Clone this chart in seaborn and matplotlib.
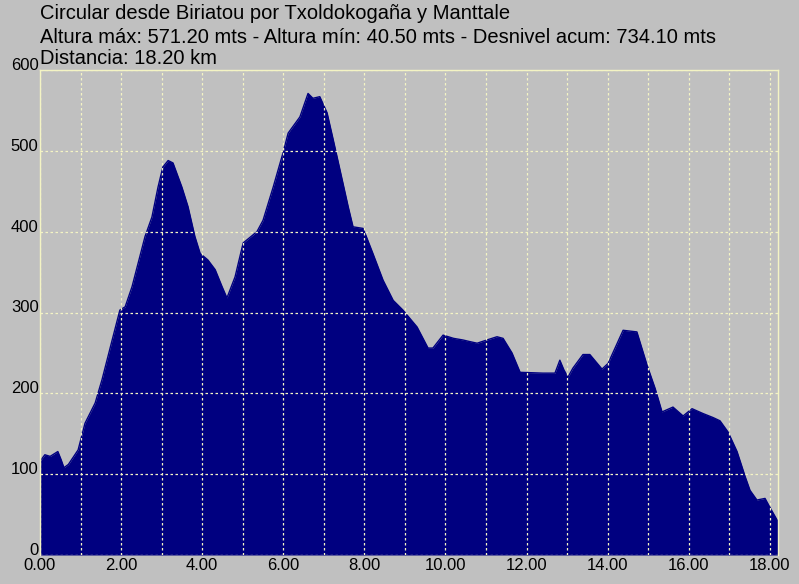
import matplotlib
matplotlib.use("Agg")
import matplotlib.pyplot as plt
import seaborn as sns
import pandas as pd

# Perfil: distancia (km) y altura (m)
dist_km = [0.00, 0.12, 0.25, 0.44, 0.52, 0.59, 0.70, 0.94, 1.11, 1.36, 1.53, 1.78,
           1.97, 2.10, 2.27, 2.42, 2.59, 2.76, 2.91, 3.03, 3.16, 3.28, 3.50, 3.65,
           3.82, 3.95, 4.14, 4.32, 4.49, 4.61, 4.81, 5.01, 5.35, 5.50, 5.75, 5.99,
           6.12, 6.41, 6.61, 6.73, 6.90, 7.08, 7.23, 7.40, 7.60, 7.72, 7.97, 8.21,
           8.46, 8.71, 8.95, 9.05, 9.30, 9.57, 9.69, 9.94, 10.20, 10.43, 10.60,
           10.78, 11.02, 11.27, 11.42, 11.64, 11.84, 12.40, 12.70, 12.82, 12.92,
           13.02, 13.14, 13.39, 13.56, 13.86, 14.01, 14.38, 14.72, 14.97, 15.17,
           15.34, 15.61, 15.86, 16.08, 16.35, 16.60, 16.77, 16.97, 17.19, 17.39,
           17.51, 17.68, 17.88, 18.00, 18.18, 18.20]
altura_m = [116, 124, 122, 128, 118, 108, 112, 130, 163, 188, 217, 266,
            303, 307, 332, 361, 394, 418, 455, 480, 488, 485, 455, 431,
            394, 373, 365, 353, 332, 318, 344, 386, 400, 414, 455, 497,
            522, 542, 571, 565, 567, 547, 514, 476, 431, 406, 404, 373,
            340, 315, 303, 297, 282, 256, 256, 272, 268, 266, 264,
            262, 266, 270, 268, 250, 226, 225, 225, 241, 229,
            220, 231, 248, 248, 230, 237, 278, 276, 235, 206,
            177, 183, 172, 181, 175, 170, 166, 152, 128, 97,
            80, 68, 70, 59, 43, 41]

x_ticks = [0, 2, 4, 6, 8, 10, 12, 14, 16, 18]
y_ticks = [0, 100, 200, 300, 400, 500, 600]
titulo = ["Circular desde Biriatou por Txoldokogaña y Manttale",
          "Altura máx: 571.20 mts - Altura mín: 40.50 mts - Desnivel acum: 734.10 mts",
          "Distancia: 18.20 km"]

sns.set_style("white")
plt.rcParams['font.family'] = ['Liberation Sans', 'DejaVu Sans']

gris = '#c0c0c0'
azul = '#000080'
amarillo = '#f4f4c4'

df = pd.DataFrame({'km': dist_km, 'm': altura_m})

fig = plt.figure(figsize=(7.99, 5.84), dpi=100, facecolor=gris)
ax = fig.add_axes([40 / 799, 1 - 555 / 584, 738 / 799, 485 / 584])
ax.set_facecolor(gris)

ax.fill_between(df['km'], df['m'], 0, color=azul, lw=0, zorder=1)
sns.lineplot(data=df, x='km', y='m', color=azul, lw=1, ax=ax, zorder=2)

ax.set_xlim(0, 18.2)
ax.set_ylim(0, 600)
ax.set_xticks(range(0, 19))
ax.set_xticklabels([f"{v:.2f}" if v in x_ticks else "" for v in range(0, 19)])
ax.set_yticks(y_ticks)
ax.set_yticklabels([str(v) for v in y_ticks])
ax.tick_params(axis='both', length=0, labelsize=12, colors='black')
ax.tick_params(axis='x', pad=2)
ax.tick_params(axis='y', pad=1)
for lbl in ax.get_yticklabels():
    lbl.set_verticalalignment('baseline')
ax.set_xlabel("")
ax.set_ylabel("")

ax.grid(True, color=amarillo, ls=(0, (2, 2)), lw=0.9, zorder=3)
ax.set_axisbelow(False)
for side in ['left', 'right', 'top']:
    ax.spines[side].set_color(amarillo)
    ax.spines[side].set_linewidth(1)
ax.spines['bottom'].set_visible(False)

for txt, yb in zip(titulo, [19, 43, 64]):
    fig.text(40 / 799, 1 - yb / 584, txt, fontsize=14.5, color='black',
             ha='left', va='baseline')

fig.savefig("out.png", dpi=100, facecolor=gris)
